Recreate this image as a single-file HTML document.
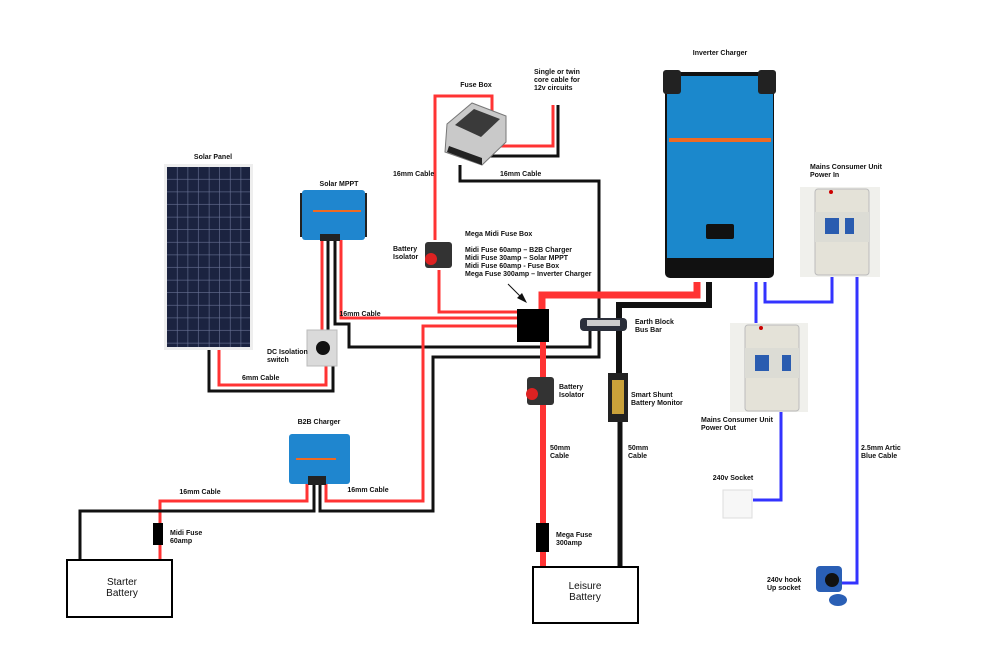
<!DOCTYPE html>
<html><head><meta charset="utf-8"><style>
html,body{margin:0;padding:0;background:#fff;}
svg{display:block;}
text{font-family:"Liberation Sans",Arial,sans-serif;font-size:7px;font-weight:bold;fill:#111;}
.big{font-size:10px;font-weight:normal;}
</style></head><body>
<svg width="986" height="667" viewBox="0 0 986 667" xmlns="http://www.w3.org/2000/svg" xml:space="preserve">
<defs>
<pattern id="cells" x="167" y="167" width="10.6" height="12.6" patternUnits="userSpaceOnUse">
<rect width="10.6" height="12.6" fill="#1b2340"/>
<rect x="10" width="0.7" height="12.6" fill="#6a7396"/>
<rect y="12" width="10.6" height="0.7" fill="#6a7396"/>
</pattern>
</defs>
<rect width="986" height="667" fill="#fff"/>

<g fill="none" stroke-linejoin="miter">
<polyline points="209,348 209,391 333,391 333,366" stroke="#111" stroke-width="3"/>
<polyline points="219,348 219,385 326,385 326,366" stroke="#f33" stroke-width="3"/>
<polyline points="322,240 322,331" stroke="#f33" stroke-width="3"/>
<polyline points="328,240 328,331" stroke="#111" stroke-width="3"/>
<polyline points="335,240 335,324 349,324 349,347 590,347 590,330" stroke="#111" stroke-width="3"/>
<polyline points="341,240 341,318 518,318" stroke="#f33" stroke-width="3"/>
<polyline points="439,270 439,312 518,312" stroke="#f33" stroke-width="3"/>
<polyline points="435,240 435,96 492,96 492,114" stroke="#f33" stroke-width="3"/>
<polyline points="486,146 553,146 553,105" stroke="#f33" stroke-width="3"/>
<polyline points="486,156 558,156 558,105" stroke="#111" stroke-width="3"/>
<polyline points="460,165 460,181 599,181 599,357 433,357 433,511 320,511 320,484" stroke="#111" stroke-width="3"/>
<polyline points="518,326 423,326 423,501 326,501 326,484" stroke="#f33" stroke-width="3"/>
<polyline points="307,484 307,501 160,501 160,560" stroke="#f33" stroke-width="3"/>
<polyline points="314,484 314,511 80,511 80,560" stroke="#111" stroke-width="3"/>
<polyline points="697,282 697,295 542,295 542,310" stroke="#f33" stroke-width="7"/>
<polyline points="709,282 709,305 619,305 619,374" stroke="#111" stroke-width="6"/>
<polyline points="543,341 543,568" stroke="#f33" stroke-width="6"/>
<polyline points="620,420 620,568" stroke="#111" stroke-width="5"/>
<polyline points="756,282 756,323" stroke="#33f" stroke-width="3"/>
<polyline points="765,282 765,302 832,302 832,277" stroke="#33f" stroke-width="3"/>
<polyline points="857,277 857,583 841,583" stroke="#33f" stroke-width="3"/>
<polyline points="781,412 781,500 753,500" stroke="#33f" stroke-width="3"/>
</g>

<rect x="164" y="164" width="89" height="186" fill="#eee"/>
<rect x="167" y="167" width="83" height="180" fill="url(#cells)"/>

<rect x="300" y="193" width="6" height="44" fill="#222"/>
<rect x="361" y="193" width="6" height="44" fill="#222"/>
<rect x="302" y="190" width="63" height="50" rx="3" fill="#1f86cf"/>
<rect x="313" y="210" width="48" height="2" fill="#ef6a22"/>
<rect x="320" y="234" width="20" height="7" fill="#222"/>
<rect x="307" y="330" width="30" height="36" fill="#dadada" stroke="#bbb"/>
<circle cx="323" cy="348" r="7" fill="#111"/>

<rect x="425" y="242" width="27" height="26" rx="3" fill="#333"/>
<circle cx="431" cy="259" r="6" fill="#d22"/>
<polygon points="447,124 472,103 506,116 506,142 482,165 445,152" fill="#c9c9c9" stroke="#777"/>
<polygon points="455,125 474,109 500,119 481,137" fill="#3a3a3a"/>
<polygon points="447,152 482,165 482,158 449,146" fill="#222"/>
<rect x="517" y="309" width="32" height="33" fill="#000"/>
<line x1="508" y1="284" x2="522" y2="298" stroke="#111" stroke-width="1"/>
<polygon points="527,303 517,298 522,293" fill="#111"/>
<rect x="580" y="318" width="47" height="13" rx="4" fill="#2b2f3a"/>
<rect x="587" y="320" width="33" height="6" fill="#ccc"/>
<rect x="527" y="377" width="27" height="28" rx="3" fill="#333"/>
<circle cx="532" cy="394" r="6" fill="#d22"/>
<rect x="608" y="373" width="20" height="49" fill="#222"/>
<rect x="612" y="380" width="12" height="34" fill="#c9a13a"/>
<rect x="536" y="523" width="13" height="29" fill="#000"/>
<rect x="153" y="523" width="10" height="22" fill="#000"/>
<rect x="289" y="434" width="61" height="50" rx="3" fill="#1f86cf"/>
<rect x="296" y="458" width="40" height="2" fill="#ef6a22"/>
<rect x="308" y="476" width="18" height="9" fill="#222"/>

<rect x="67" y="560" width="105" height="57" fill="#fff" stroke="#000" stroke-width="2"/>
<rect x="533" y="567" width="105" height="56" fill="#fff" stroke="#000" stroke-width="2"/>

<rect x="665" y="72" width="109" height="206" rx="5" fill="#111"/>
<rect x="667" y="76" width="106" height="182" fill="#1b88cc"/>
<rect x="663" y="70" width="18" height="24" rx="3" fill="#222"/>
<rect x="758" y="70" width="18" height="24" rx="3" fill="#222"/>
<rect x="669" y="138" width="102" height="4" fill="#ef6a22"/>
<rect x="706" y="224" width="28" height="15" rx="2" fill="#111"/>

<rect x="800" y="187" width="80" height="90" fill="#f0f0ec"/>
<rect x="815" y="189" width="54" height="86" rx="3" fill="#e4e2d8" stroke="#bbb"/>
<rect x="815" y="212" width="54" height="30" fill="#dcdcd5"/>
<rect x="825" y="218" width="14" height="16" fill="#2a5cb0"/>
<rect x="845" y="218" width="9" height="16" fill="#2a5cb0"/>
<circle cx="831" cy="192" r="2" fill="#c00"/>
<rect x="730" y="323" width="78" height="89" fill="#f0f0ec"/>
<rect x="745" y="325" width="54" height="86" rx="3" fill="#e4e2d8" stroke="#bbb"/>
<rect x="745" y="348" width="54" height="30" fill="#dcdcd5"/>
<rect x="755" y="355" width="14" height="16" fill="#2a5cb0"/>
<rect x="782" y="355" width="9" height="16" fill="#2a5cb0"/>
<circle cx="761" cy="328" r="2" fill="#c00"/>
<rect x="723" y="490" width="29" height="28" fill="#f7f7f7" stroke="#ddd"/>
<rect x="816" y="566" width="26" height="26" rx="4" fill="#2a5fb5"/>
<circle cx="832" cy="580" r="7" fill="#111"/>
<ellipse cx="838" cy="600" rx="9" ry="6" fill="#2a5fb5"/>

<text x="720" y="55" text-anchor="middle">Inverter Charger</text>
<text x="534" y="74">Single or twin</text>
<text x="534" y="82">core cable for</text>
<text x="534" y="90">12v circuits</text>
<text x="476" y="87" text-anchor="middle">Fuse Box</text>
<text x="393" y="176">16mm Cable</text>
<text x="500" y="176">16mm Cable</text>
<text x="339" y="186" text-anchor="middle">Solar MPPT</text>
<text x="213" y="159" text-anchor="middle">Solar Panel</text>
<text x="393" y="251">Battery</text>
<text x="393" y="259">Isolator</text>
<text x="465" y="236">Mega Midi Fuse Box</text>
<text x="465" y="252">Midi Fuse   60amp – B2B Charger</text>
<text x="465" y="260">Midi Fuse   30amp –  Solar MPPT</text>
<text x="465" y="268">Midi Fuse   60amp  - Fuse Box</text>
<text x="465" y="276">Mega Fuse 300amp – Inverter Charger</text>
<text x="360" y="316" text-anchor="middle">16mm Cable</text>
<text x="635" y="324">Earth Block</text>
<text x="635" y="332">Bus Bar</text>
<text x="267" y="354">DC Isolation</text>
<text x="267" y="362">switch</text>
<text x="242" y="380">6mm Cable</text>
<text x="559" y="389">Battery</text>
<text x="559" y="397">Isolator</text>
<text x="631" y="397">Smart  Shunt</text>
<text x="631" y="405">Battery Monitor</text>
<text x="810" y="169">Mains Consumer Unit</text>
<text x="810" y="177">Power In</text>
<text x="701" y="422">Mains Consumer Unit</text>
<text x="701" y="430">Power Out</text>
<text x="319" y="424" text-anchor="middle">B2B Charger</text>
<text x="200" y="494" text-anchor="middle">16mm Cable</text>
<text x="368" y="492" text-anchor="middle">16mm Cable</text>
<text x="550" y="450">50mm</text>
<text x="550" y="458">Cable</text>
<text x="628" y="450">50mm</text>
<text x="628" y="458">Cable</text>
<text x="170" y="535">Midi Fuse</text>
<text x="170" y="543">60amp</text>
<text x="556" y="537">Mega Fuse</text>
<text x="556" y="545">300amp</text>
<text class="big" x="122" y="585" text-anchor="middle">Starter</text>
<text class="big" x="122" y="596" text-anchor="middle">Battery</text>
<text class="big" x="585" y="589" text-anchor="middle">Leisure</text>
<text class="big" x="585" y="600" text-anchor="middle">Battery</text>
<text x="733" y="480" text-anchor="middle">240v  Socket</text>
<text x="861" y="450">2.5mm Artic</text>
<text x="861" y="458">Blue Cable</text>
<text x="767" y="582">240v hook</text>
<text x="767" y="590">Up socket</text>
</svg>
</body></html>
